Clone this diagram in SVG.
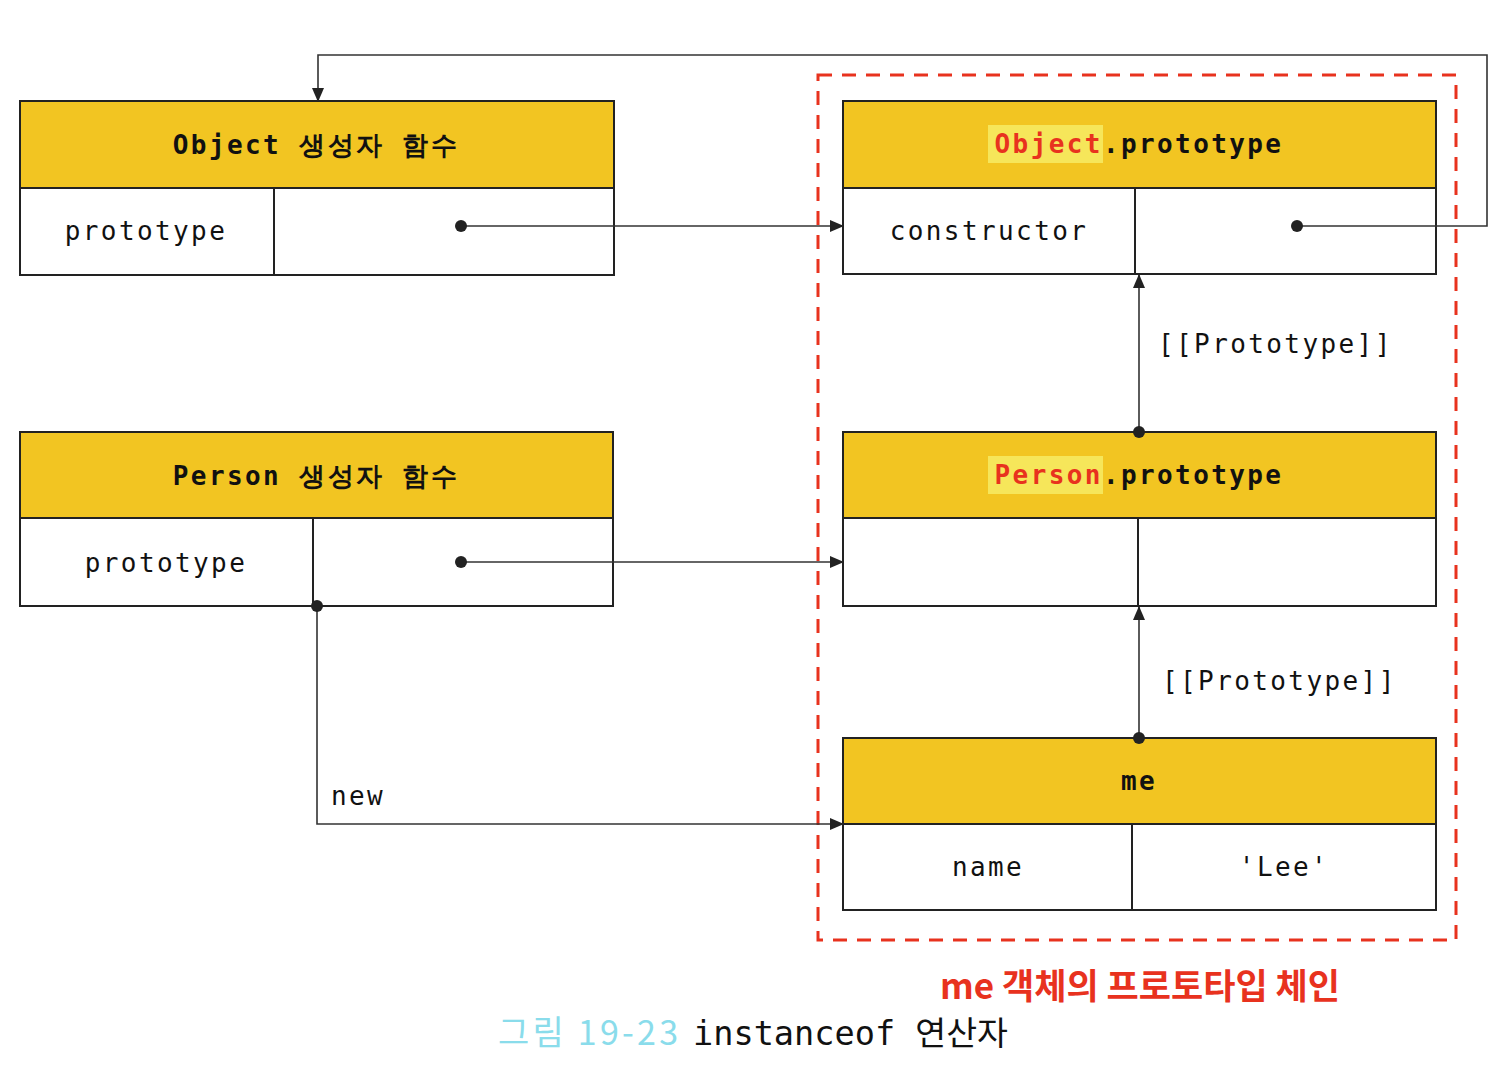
<svg xmlns="http://www.w3.org/2000/svg" width="1509" height="1075" viewBox="0 0 1509 1075">
<style>
.hdr{fill:#F2C522;stroke:#222;stroke-width:2}
.row{fill:#fff;stroke:#222;stroke-width:2}
.div{stroke:#222;stroke-width:2}
.mono{font-family:"DejaVu Sans Mono","Liberation Mono",monospace;font-size:26px;fill:#111;letter-spacing:2.4px}
.bold{font-weight:bold}
.red{fill:#E8321E}
.hl{fill:#F6E65A}
.con{fill:none;stroke:#333;stroke-width:1.6}
.dot{fill:#222}
</style>
<defs>
<marker id="arr" markerWidth="14" markerHeight="12" refX="13" refY="6" orient="auto" markerUnits="userSpaceOnUse">
<path d="M0,0 L14,6 L0,12 Z" fill="#222"/>
</marker>
</defs>
<rect width="1509" height="1075" fill="#fff"/>

<rect x="818" y="75" width="638" height="865" fill="none" stroke="#E8321E" stroke-width="3" stroke-dasharray="14,10"/>

<g id="object-constructor">
<rect class="hdr" x="20" y="101" width="594" height="87"/>
<rect class="row" x="20" y="188" width="594" height="87"/>
<line class="div" x1="274" y1="188" x2="274" y2="275"/>
<text class="mono bold" x="316" y="154" text-anchor="middle" font-size="27">Object 생성자 함수</text>
<text class="mono" x="146" y="240" text-anchor="middle">prototype</text>
</g>

<g id="person-constructor">
<rect class="hdr" x="20" y="432" width="593" height="86"/>
<rect class="row" x="20" y="518" width="593" height="88"/>
<line class="div" x1="313" y1="518" x2="313" y2="606"/>
<text class="mono bold" x="316" y="485" text-anchor="middle" font-size="27">Person 생성자 함수</text>
<text class="mono" x="166" y="572" text-anchor="middle">prototype</text>
</g>

<g id="object-prototype">
<rect class="hdr" x="843" y="101" width="593" height="87"/>
<rect class="row" x="843" y="188" width="593" height="86"/>
<line class="div" x1="1135" y1="188" x2="1135" y2="274"/>
<rect class="hl" x="988" y="125" width="115" height="38"/>
<text class="mono bold" x="1139" y="153" text-anchor="middle"><tspan class="red">Object</tspan>.prototype</text>
<text class="mono" x="989" y="240" text-anchor="middle">constructor</text>
</g>

<g id="person-prototype">
<rect class="hdr" x="843" y="432" width="593" height="86"/>
<rect class="row" x="843" y="518" width="593" height="88"/>
<line class="div" x1="1138" y1="518" x2="1138" y2="606"/>
<rect class="hl" x="988" y="456" width="115" height="38"/>
<text class="mono bold" x="1139" y="484" text-anchor="middle"><tspan class="red">Person</tspan>.prototype</text>
</g>

<g id="me">
<rect class="hdr" x="843" y="738" width="593" height="86"/>
<rect class="row" x="843" y="824" width="593" height="86"/>
<line class="div" x1="1132" y1="824" x2="1132" y2="910"/>
<text class="mono bold" x="1139" y="790" text-anchor="middle">me</text>
<text class="mono" x="988" y="876" text-anchor="middle">name</text>
<text class="mono" x="1284" y="876" text-anchor="middle">'Lee'</text>
</g>

<g id="connectors">
<line class="con" x1="461" y1="226" x2="843" y2="226" marker-end="url(#arr)"/>
<circle class="dot" cx="461" cy="226" r="6"/>
<polyline class="con" points="1297,226 1487,226 1487,55 318,55 318,101" marker-end="url(#arr)"/>
<circle class="dot" cx="1297" cy="226" r="6"/>
<line class="con" x1="461" y1="562" x2="843" y2="562" marker-end="url(#arr)"/>
<circle class="dot" cx="461" cy="562" r="6"/>
<polyline class="con" points="317,606 317,824 843,824" marker-end="url(#arr)"/>
<circle class="dot" cx="317" cy="606" r="6"/>
<line class="con" x1="1139" y1="432" x2="1139" y2="275" marker-end="url(#arr)"/>
<circle class="dot" cx="1139" cy="432" r="6"/>
<line class="con" x1="1139" y1="738" x2="1139" y2="607" marker-end="url(#arr)"/>
<circle class="dot" cx="1139" cy="738" r="6"/>
<text class="mono" x="331" y="805">new</text>
<text class="mono" x="1158" y="353">[[Prototype]]</text>
<text class="mono" x="1162" y="690">[[Prototype]]</text>
</g>

<text x="1140" y="999" text-anchor="middle" font-family="'Noto Sans CJK KR','Noto Sans',sans-serif" font-weight="bold" font-size="35" fill="#E8321E">me 객체의 프로토타입 체인</text>
<text x="498" y="1045" font-family="'Noto Sans CJK KR','Noto Sans',sans-serif" font-size="34" fill="#8ADCEB" textLength="180" lengthAdjust="spacing">그림 19-23</text>
<text x="693" y="1045" font-family="'DejaVu Sans Mono','Noto Sans CJK KR',monospace" font-size="33" fill="#111" textLength="315" lengthAdjust="spacingAndGlyphs">instanceof <tspan font-family="'Noto Sans CJK KR',sans-serif">연산자</tspan></text>
</svg>
